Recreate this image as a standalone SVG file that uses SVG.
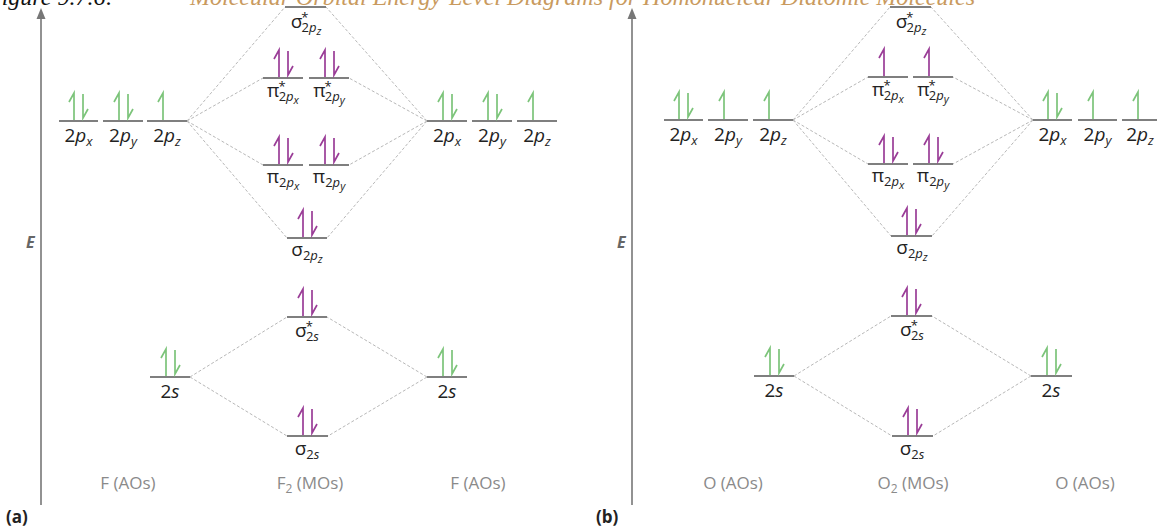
<svg xmlns="http://www.w3.org/2000/svg" xmlns:xlink="http://www.w3.org/1999/xlink" width="1157" height="527" viewBox="0 0 1157 527">
<style>
text{font-family:"Open Sans","Liberation Sans",sans-serif;}
.bg{fill:#ffffff;}
.lv{stroke:#555;stroke-width:1.6;fill:none;}
.cn{stroke:#b8b8b8;stroke-width:1;stroke-dasharray:3 2;fill:none;}
.ax{stroke:#777;stroke-width:1.6;fill:none;}
.axh{fill:#777;}
.ao{stroke:#7cc47a;stroke-width:1.7;fill:none;}
.mo{stroke:#9a3d97;stroke-width:1.7;fill:none;}
.lb{font-size:19px;fill:#222;text-anchor:middle;}
.sub{font-size:13px;}
.ss{font-size:11px;font-style:italic;}
.sup{font-size:13px;}
.it{font-style:italic;}
.ft{font-size:17px;fill:#8a8a8a;text-anchor:middle;}
.E{font-size:16px;font-style:italic;font-weight:bold;fill:#666;}
.pl{font-size:17px;font-weight:bold;fill:#222;}
.cap{font-family:"Liberation Serif",serif;font-style:italic;font-size:24px;}
</style>
<defs>
<path id="up" d="M0,-1 V-28 L-5,-19"/>
<path id="dn" d="M0,-27 V-3 L5,-12"/>
</defs>
<rect class="bg" x="0" y="0" width="1157" height="527"/>
<text class="cap" x="-13" y="5"><tspan fill="#111">Figure 9.7.6:</tspan><tspan x="190" fill="#c99a5e">Molecular Orbital Energy-Level Diagrams for Homonuclear Diatomic Molecules</tspan></text>

<!-- ================= (a) ================= -->
<g id="axis-a">
<line class="ax" x1="41" y1="505" x2="41" y2="16"/>
<polygon class="axh" points="41,8 36.5,19 45.5,19"/>
<text class="E" x="26" y="248">E</text>
</g>
<g id="connectors-a">
<path class="cn" d="M187,121 L285,7 M187,121 L263,78 M187,121 L263,165 M187,121 L287,238"/>
<path class="cn" d="M427,121 L326,7 M427,121 L349,78 M427,121 L349,165 M427,121 L327,238"/>
<path class="cn" d="M190,377 L287,317 M190,377 L287,436 M427,377 L327,317 M427,377 L328,436"/>
</g>
<g id="a-L2px"><line class="lv" x1="59" y1="121" x2="98" y2="121"/><use href="#up" class="ao" x="74" y="121"/><use href="#dn" class="ao" x="83" y="121"/><text class="lb" x="78.5" y="142">2<tspan class="it">p</tspan><tspan class="sub it" dy="4">x</tspan></text></g>
<g id="a-L2py"><line class="lv" x1="103" y1="121" x2="143" y2="121"/><use href="#up" class="ao" x="119" y="121"/><use href="#dn" class="ao" x="128" y="121"/><text class="lb" x="123" y="142">2<tspan class="it">p</tspan><tspan class="sub it" dy="4">y</tspan></text></g>
<g id="a-L2pz"><line class="lv" x1="147" y1="121" x2="187" y2="121"/><use href="#up" class="ao" x="163" y="121"/><text class="lb" x="167" y="142">2<tspan class="it">p</tspan><tspan class="sub it" dy="4">z</tspan></text></g>
<g id="a-R2px"><line class="lv" x1="427" y1="121" x2="467" y2="121"/><use href="#up" class="ao" x="443" y="121"/><use href="#dn" class="ao" x="452" y="121"/><text class="lb" x="447" y="142">2<tspan class="it">p</tspan><tspan class="sub it" dy="4">x</tspan></text></g>
<g id="a-R2py"><line class="lv" x1="472" y1="121" x2="512" y2="121"/><use href="#up" class="ao" x="488" y="121"/><use href="#dn" class="ao" x="497" y="121"/><text class="lb" x="492" y="142">2<tspan class="it">p</tspan><tspan class="sub it" dy="4">y</tspan></text></g>
<g id="a-R2pz"><line class="lv" x1="517" y1="121" x2="557" y2="121"/><use href="#up" class="ao" x="533" y="121"/><text class="lb" x="537" y="142">2<tspan class="it">p</tspan><tspan class="sub it" dy="4">z</tspan></text></g>
<g id="a-L2s"><line class="lv" x1="150" y1="377" x2="190" y2="377"/><use href="#up" class="ao" x="166" y="377"/><use href="#dn" class="ao" x="175" y="377"/><text class="lb" x="170" y="398">2<tspan class="it">s</tspan></text></g>
<g id="a-R2s"><line class="lv" x1="427" y1="377" x2="467" y2="377"/><use href="#up" class="ao" x="443" y="377"/><use href="#dn" class="ao" x="452" y="377"/><text class="lb" x="447" y="398">2<tspan class="it">s</tspan></text></g>
<g id="a-sigstar2pz"><line class="lv" x1="285" y1="7" x2="326" y2="7"/><text class="lb" x="306" y="28">σ<tspan class="sup" dx="-1" dy="-6">*</tspan><tspan class="sub" dx="-7" dy="10">2<tspan class="it">p</tspan></tspan><tspan class="ss" dy="3">z</tspan></text></g>
<g id="a-pistar2px"><line class="lv" x1="263" y1="78" x2="303" y2="78"/><use href="#up" class="mo" x="279" y="78"/><use href="#dn" class="mo" x="288" y="78"/><text class="lb" x="283" y="97">π<tspan class="sup" dx="-1" dy="-6">*</tspan><tspan class="sub" dx="-7" dy="10">2<tspan class="it">p</tspan></tspan><tspan class="ss" dy="3">x</tspan></text></g>
<g id="a-pistar2py"><line class="lv" x1="309" y1="78" x2="349" y2="78"/><use href="#up" class="mo" x="325" y="78"/><use href="#dn" class="mo" x="334" y="78"/><text class="lb" x="329" y="97">π<tspan class="sup" dx="-1" dy="-6">*</tspan><tspan class="sub" dx="-7" dy="10">2<tspan class="it">p</tspan></tspan><tspan class="ss" dy="3">y</tspan></text></g>
<g id="a-pi2px"><line class="lv" x1="263" y1="165" x2="303" y2="165"/><use href="#up" class="mo" x="279" y="165"/><use href="#dn" class="mo" x="288" y="165"/><text class="lb" x="283" y="183">π<tspan class="sub" dy="4">2<tspan class="it">p</tspan></tspan><tspan class="ss" dy="3">x</tspan></text></g>
<g id="a-pi2py"><line class="lv" x1="309" y1="165" x2="349" y2="165"/><use href="#up" class="mo" x="325" y="165"/><use href="#dn" class="mo" x="334" y="165"/><text class="lb" x="329" y="183">π<tspan class="sub" dy="4">2<tspan class="it">p</tspan></tspan><tspan class="ss" dy="3">y</tspan></text></g>
<g id="a-sig2pz"><line class="lv" x1="287" y1="238" x2="327" y2="238"/><use href="#up" class="mo" x="303" y="238"/><use href="#dn" class="mo" x="312" y="238"/><text class="lb" x="307" y="256">σ<tspan class="sub" dy="4">2<tspan class="it">p</tspan></tspan><tspan class="ss" dy="3">z</tspan></text></g>
<g id="a-sigstar2s"><line class="lv" x1="287" y1="317" x2="327" y2="317"/><use href="#up" class="mo" x="303" y="317"/><use href="#dn" class="mo" x="312" y="317"/><text class="lb" x="307" y="337">σ<tspan class="sup" dx="-1" dy="-6">*</tspan><tspan class="sub" dx="-7" dy="10">2<tspan class="it">s</tspan></tspan></text></g>
<g id="a-sig2s"><line class="lv" x1="287" y1="436" x2="328" y2="436"/><use href="#up" class="mo" x="303" y="436"/><use href="#dn" class="mo" x="312" y="436"/><text class="lb" x="307" y="455">σ<tspan class="sub" dy="4">2<tspan class="it">s</tspan></tspan></text></g>
<g id="a-foot">
<text class="ft" x="128" y="489">F (AOs)</text>
<text class="ft" x="310" y="489">F<tspan font-size="12" dy="4">2</tspan><tspan dy="-4"> (MOs)</tspan></text>
<text class="ft" x="478" y="489">F (AOs)</text>
<text class="pl" x="6" y="523">(a)</text>
</g>

<!-- ================= (b) ================= -->
<g id="axis-b">
<line class="ax" x1="632" y1="505" x2="632" y2="16"/>
<polygon class="axh" points="632,8 627.5,19 636.5,19"/>
<text class="E" x="617" y="248">E</text>
</g>
<g id="connectors-b">
<path class="cn" d="M793,120 L890,7 M793,120 L868,77 M793,120 L868,164 M793,120 L891,236"/>
<path class="cn" d="M1033,120 L931,7 M1033,120 L953,77 M1033,120 L953,164 M1033,120 L932,236"/>
<path class="cn" d="M794,376 L891,316 M794,376 L892,436 M1031,376 L932,316 M1031,376 L933,436"/>
</g>
<g id="b-L2px"><line class="lv" x1="664" y1="120" x2="703" y2="120"/><use href="#up" class="ao" x="679" y="120"/><use href="#dn" class="ao" x="688" y="120"/><text class="lb" x="683.5" y="141">2<tspan class="it">p</tspan><tspan class="sub it" dy="4">x</tspan></text></g>
<g id="b-L2py"><line class="lv" x1="708" y1="120" x2="748" y2="120"/><use href="#up" class="ao" x="724" y="120"/><text class="lb" x="728" y="141">2<tspan class="it">p</tspan><tspan class="sub it" dy="4">y</tspan></text></g>
<g id="b-L2pz"><line class="lv" x1="753" y1="120" x2="793" y2="120"/><use href="#up" class="ao" x="769" y="120"/><text class="lb" x="773" y="141">2<tspan class="it">p</tspan><tspan class="sub it" dy="4">z</tspan></text></g>
<g id="b-R2px"><line class="lv" x1="1033" y1="120" x2="1072" y2="120"/><use href="#up" class="ao" x="1048" y="120"/><use href="#dn" class="ao" x="1057" y="120"/><text class="lb" x="1052.5" y="141">2<tspan class="it">p</tspan><tspan class="sub it" dy="4">x</tspan></text></g>
<g id="b-R2py"><line class="lv" x1="1078" y1="120" x2="1117" y2="120"/><use href="#up" class="ao" x="1093" y="120"/><text class="lb" x="1097.5" y="141">2<tspan class="it">p</tspan><tspan class="sub it" dy="4">y</tspan></text></g>
<g id="b-R2pz"><line class="lv" x1="1122" y1="120" x2="1162" y2="120"/><use href="#up" class="ao" x="1138" y="120"/><text class="lb" x="1140" y="141">2<tspan class="it">p</tspan><tspan class="sub it" dy="4">z</tspan></text></g>
<g id="b-L2s"><line class="lv" x1="754" y1="376" x2="794" y2="376"/><use href="#up" class="ao" x="770" y="376"/><use href="#dn" class="ao" x="779" y="376"/><text class="lb" x="774" y="397">2<tspan class="it">s</tspan></text></g>
<g id="b-R2s"><line class="lv" x1="1031" y1="376" x2="1072" y2="376"/><use href="#up" class="ao" x="1047" y="376"/><use href="#dn" class="ao" x="1056" y="376"/><text class="lb" x="1051" y="397">2<tspan class="it">s</tspan></text></g>
<g id="b-sigstar2pz"><line class="lv" x1="890" y1="7" x2="931" y2="7"/><text class="lb" x="911" y="28">σ<tspan class="sup" dx="-1" dy="-6">*</tspan><tspan class="sub" dx="-7" dy="10">2<tspan class="it">p</tspan></tspan><tspan class="ss" dy="3">z</tspan></text></g>
<g id="b-pistar2px"><line class="lv" x1="868" y1="77" x2="908" y2="77"/><use href="#up" class="mo" x="884" y="77"/><text class="lb" x="888" y="96">π<tspan class="sup" dx="-1" dy="-6">*</tspan><tspan class="sub" dx="-7" dy="10">2<tspan class="it">p</tspan></tspan><tspan class="ss" dy="3">x</tspan></text></g>
<g id="b-pistar2py"><line class="lv" x1="913" y1="77" x2="953" y2="77"/><use href="#up" class="mo" x="929" y="77"/><text class="lb" x="933" y="96">π<tspan class="sup" dx="-1" dy="-6">*</tspan><tspan class="sub" dx="-7" dy="10">2<tspan class="it">p</tspan></tspan><tspan class="ss" dy="3">y</tspan></text></g>
<g id="b-pi2px"><line class="lv" x1="868" y1="164" x2="908" y2="164"/><use href="#up" class="mo" x="884" y="164"/><use href="#dn" class="mo" x="893" y="164"/><text class="lb" x="888" y="182">π<tspan class="sub" dy="4">2<tspan class="it">p</tspan></tspan><tspan class="ss" dy="3">x</tspan></text></g>
<g id="b-pi2py"><line class="lv" x1="913" y1="164" x2="953" y2="164"/><use href="#up" class="mo" x="929" y="164"/><use href="#dn" class="mo" x="938" y="164"/><text class="lb" x="933" y="182">π<tspan class="sub" dy="4">2<tspan class="it">p</tspan></tspan><tspan class="ss" dy="3">y</tspan></text></g>
<g id="b-sig2pz"><line class="lv" x1="891" y1="236" x2="932" y2="236"/><use href="#up" class="mo" x="907" y="236"/><use href="#dn" class="mo" x="916" y="236"/><text class="lb" x="912" y="254">σ<tspan class="sub" dy="4">2<tspan class="it">p</tspan></tspan><tspan class="ss" dy="3">z</tspan></text></g>
<g id="b-sigstar2s"><line class="lv" x1="891" y1="316" x2="932" y2="316"/><use href="#up" class="mo" x="907" y="316"/><use href="#dn" class="mo" x="916" y="316"/><text class="lb" x="912" y="336">σ<tspan class="sup" dx="-1" dy="-6">*</tspan><tspan class="sub" dx="-7" dy="10">2<tspan class="it">s</tspan></tspan></text></g>
<g id="b-sig2s"><line class="lv" x1="892" y1="436" x2="933" y2="436"/><use href="#up" class="mo" x="908" y="436"/><use href="#dn" class="mo" x="917" y="436"/><text class="lb" x="912" y="455">σ<tspan class="sub" dy="4">2<tspan class="it">s</tspan></tspan></text></g>
<g id="b-foot">
<text class="ft" x="733" y="489">O (AOs)</text>
<text class="ft" x="913" y="489">O<tspan font-size="12" dy="4">2</tspan><tspan dy="-4"> (MOs)</tspan></text>
<text class="ft" x="1085" y="489">O (AOs)</text>
<text class="pl" x="596" y="523">(b)</text>
</g>
</svg>
